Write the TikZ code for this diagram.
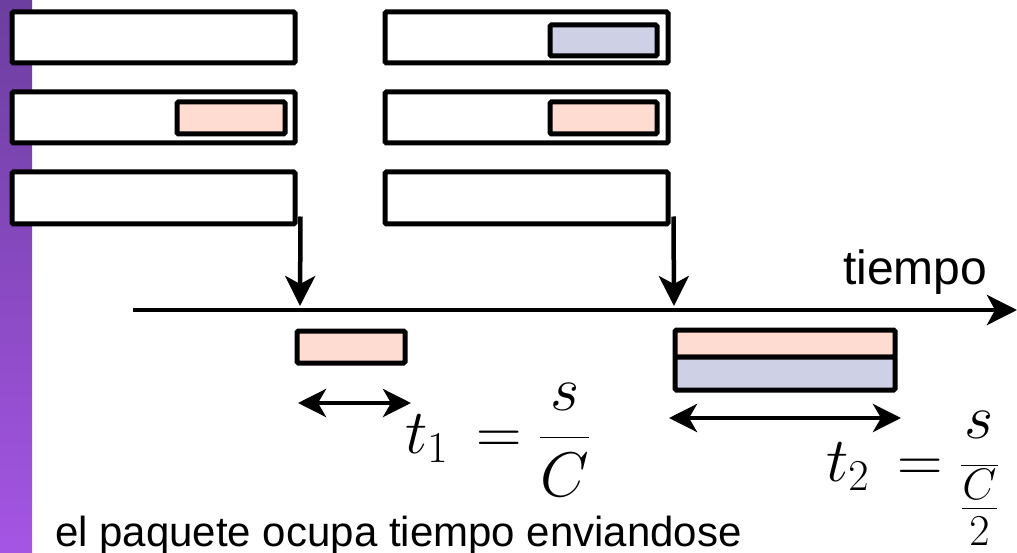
\RequirePackage{fix-cm}
\documentclass[tikz,border=0pt]{standalone}
\usepackage{fontspec}
\usepackage{amsmath}
\newfontfamily\arialf{Liberation Sans}
\usetikzlibrary{arrows.meta,fit}
\definecolor{pinkf}{RGB}{255,220,210}
\definecolor{bluef}{RGB}{206,208,230}
\definecolor{stripTop}{RGB}{108,62,158}
\definecolor{stripBot}{RGB}{165,85,228}
\begin{document}
\begin{tikzpicture}[x=1pt,y=-1pt,
  box/.style={draw=black,line width=5pt,rounded corners=1.5pt,inner sep=0pt,fill=white},
  pk/.style={box,fill=pinkf},
  bl/.style={box,fill=bluef},
  arr/.style={line width=4.5pt,-{Stealth[length=30pt,width=30pt,inset=8pt]}},
  darr/.style={line width=4.5pt,{Stealth[length=28pt,width=28pt,inset=8pt]}-{Stealth[length=28pt,width=28pt,inset=8pt]}},
  lbl/.style={font=\arialf\fontsize{48}{56}\selectfont,inner sep=0pt,anchor=base west},
  txt/.style={font=\arialf\fontsize{42}{48}\selectfont,inner sep=0pt,anchor=base west},
  mth/.style={font=\fontsize{63}{70}\selectfont,inner sep=0pt,anchor=base west}
  ]
\useasboundingbox (0,0) rectangle (1017,553);
\fill[white] (0,0) rectangle (1017,553);
\shade[top color=stripTop,bottom color=stripBot] (0,0) rectangle (32,553);
% left column of buffers
\node[box,fit={(12,12) (295,63)}] (L1) {};
\node[box,fit={(12,92) (295,143)}] (L2) {};
\node[pk,fit={(177,102) (285,134)}] (Lp) {};
\node[box,fit={(12,172) (295,224)}] (L3) {};
% right column of buffers
\node[box,fit={(385,12) (668,63)}] (R1) {};
\node[bl,fit={(550,25) (657,56)}] (Rb) {};
\node[box,fit={(385,92) (668,143)}] (R2) {};
\node[pk,fit={(550,102) (657,134)}] (Rp) {};
\node[box,fit={(385,172) (668,224)}] (R3) {};
% time axis
\coordinate (axL) at (133,310);
\coordinate (axR) at (1017,310);
\draw[arr] (axL) -- (axR);
\node[lbl] (tiempo) at (843,284) {tiempo};
% drops onto axis
\coordinate (d1) at (300,306);
\coordinate (d2) at (674,306);
\draw[arr] ([xshift=3pt,yshift=10pt]L3.south east) -- (d1);
\draw[arr] ([xshift=3pt,yshift=10pt]R3.south east) -- (d2);
% transmitted packets
\node[pk,fit={(297,331) (405,363)}] (P1) {};
\node[pk,fit={(675,330) (895,357)}] (P2a) {};
\node[bl,fit={(675,357) (895,390)}] (P2b) {};
% durations
\coordinate (a1) at (298,403);
\coordinate (b1) at (411,403);
\draw[darr] (a1) -- (b1);
\coordinate (a2) at (669,418);
\coordinate (b2) at (901,418);
\draw[darr] (a2) -- (b2);
\node[mth] (t1) at (405,453) {$t_1 \,= \dfrac{s}{C}$};
\node[mth] (t2) at (826,481) {$t_2 \,= \dfrac{s}{\frac{C}{2}}$};
\node[txt] (cap) at (55,546) {el paquete ocupa tiempo enviandose};
\end{tikzpicture}
\end{document}
